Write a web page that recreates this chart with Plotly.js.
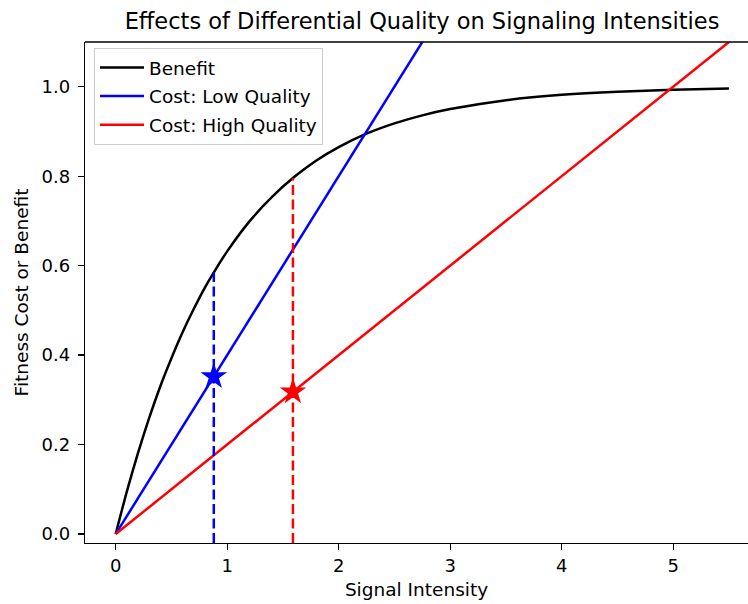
<!DOCTYPE html>
<html>
<head>
<meta charset="utf-8">
<script src="https://cdn.plot.ly/plotly-3.0.1.min.js"></script>
<style>
  html, body { margin: 0; padding: 0; background: #ffffff; }
  #chart { width: 748px; height: 604px; }
</style>
</head>
<body>
<div id="chart"></div>
<script>
// ---- data ----
const signalX      = [0, 0.1, 0.2, 0.3, 0.4, 0.5, 0.6, 0.7, 0.8, 0.9, 1.0, 1.2, 1.4, 1.6, 1.8, 2.0, 2.25, 2.5, 2.75, 3.0, 3.5, 4.0, 4.5, 5.0, 5.5];
const benefitY     = [0, 0.095, 0.181, 0.259, 0.33, 0.393, 0.451, 0.503, 0.551, 0.593, 0.632, 0.699, 0.753, 0.798, 0.835, 0.865, 0.895, 0.918, 0.936, 0.95, 0.97, 0.982, 0.989, 0.993, 0.996];
const costX        = [0, 5.5];
const costLowY     = [0, 2.2];
const costHighY    = [0, 1.1];
const optLowX      = 0.88;
const optLowTop    = 0.585;
const optLowCost   = 0.352;
const optHighX     = 1.59;
const optHighTop   = 0.796;
const optHighCost  = 0.318;
const dashBottom   = -0.02;
const xTicks       = [0, 1, 2, 3, 4, 5];
const yTicks       = [0, 0.2, 0.4, 0.6, 0.8, 1.0];
const yTickText    = ['0.0', '0.2', '0.4', '0.6', '0.8', '1.0'];

const FONT = 'DejaVu Sans, sans-serif';

const traces = [
  { x: signalX, y: benefitY, type: 'scatter', mode: 'lines', name: 'Benefit',
    line: { color: '#000000', width: 2.5, shape: 'spline', smoothing: 0.6 }, legendgroup: 'a' },
  { x: costX, y: costLowY, type: 'scatter', mode: 'lines', name: 'Cost: Low Quality',
    line: { color: '#0000ff', width: 2.5 }, legendgroup: 'b' },
  { x: costX, y: costHighY, type: 'scatter', mode: 'lines', name: 'Cost: High Quality',
    line: { color: '#ff0000', width: 2.5 }, legendgroup: 'c' },
  { x: [optLowX, optLowX], y: [dashBottom, optLowTop], type: 'scatter', mode: 'lines',
    line: { color: '#0000ff', width: 2.5, dash: '10px,4.5px' }, showlegend: false },
  { x: [optHighX, optHighX], y: [dashBottom, optHighTop], type: 'scatter', mode: 'lines',
    line: { color: '#ff0000', width: 2.5, dash: '10px,4.5px' }, showlegend: false },
  { x: [optLowX], y: [optLowCost], type: 'scatter', mode: 'markers',
    marker: { symbol: 'star', size: 20, color: '#0000ff', line: { width: 0 } }, showlegend: false },
  { x: [optHighX], y: [optHighCost], type: 'scatter', mode: 'markers',
    marker: { symbol: 'star', size: 20, color: '#ff0000', line: { width: 0 } }, showlegend: false }
];

const layout = {
  width: 748, height: 604,
  margin: { l: 85, r: 0, t: 42, b: 61 },
  paper_bgcolor: '#ffffff', plot_bgcolor: '#ffffff',
  font: { family: FONT, color: '#000000', size: 18 },
  title: {
    text: 'Effects of Differential Quality on Signaling Intensities',
    font: { family: FONT, size: 22.5, color: '#000000' },
    xref: 'container', x: 422 / 748, xanchor: 'center',
    yref: 'container', y: 1 - 21 / 604, yanchor: 'middle'
  },
  xaxis: {
    range: [-0.275, 5.671], tickvals: xTicks, ticktext: xTicks.map(String),
    showgrid: false, zeroline: false, showline: true, linecolor: '#000000', linewidth: 1.3,
    mirror: false, ticks: 'outside', ticklen: 6, tickwidth: 1.3, tickcolor: '#000000',
    tickfont: { family: FONT, size: 18, color: '#000000' },
    title: { text: 'Signal Intensity', font: { family: FONT, size: 18.5, color: '#000000' }, standoff: 8 }
  },
  yaxis: {
    range: [-0.02, 1.1], tickvals: yTicks, ticktext: yTickText,
    showgrid: false, zeroline: false, showline: true, linecolor: '#000000', linewidth: 1.3,
    mirror: false, ticks: 'outside', ticklen: 6, tickwidth: 1.3, tickcolor: '#000000',
    ticklabelstandoff: 4,
    tickfont: { family: FONT, size: 18, color: '#000000' },
    title: { text: 'Fitness Cost or Benefit', font: { family: FONT, size: 18.5, color: '#000000' }, standoff: 8 }
  },
  shapes: [
    { type: 'line', xref: 'paper', yref: 'paper', x0: 0, x1: 1, y0: 1, y1: 1,
      line: { color: '#000000', width: 1.3 } }
  ],
  legend: {
    x: 9 / 663, y: 0.988, xanchor: 'left', yanchor: 'top',
    bgcolor: 'rgba(255,255,255,0.8)', bordercolor: '#cccccc', borderwidth: 1,
    font: { family: FONT, size: 18.5, color: '#000000' },
    tracegroupgap: 1.5, itemwidth: 44
  },
  showlegend: true
};

Plotly.newPlot('chart', traces, layout, { displayModeBar: false, staticPlot: true });
</script>
</body>
</html>
